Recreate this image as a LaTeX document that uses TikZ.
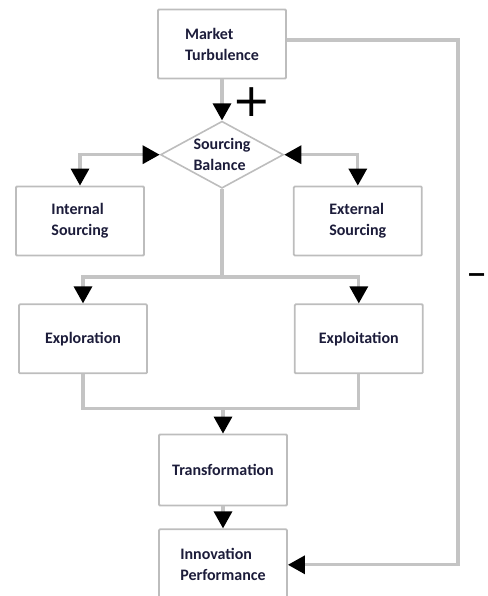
\documentclass[tikz,border=0pt]{standalone}
\usepackage{fontspec}
\setmainfont{Carlito}
\newfontfamily\signfont{DejaVu Sans}
\usetikzlibrary{positioning,shapes.geometric,arrows.meta}
\definecolor{boxgray}{HTML}{BDBDBD}
\definecolor{linegray}{HTML}{C4C4C4}
\definecolor{textnavy}{HTML}{1C1C3A}

\begin{document}
\begin{tikzpicture}[x=1pt,y=-1pt,
                >={Triangle[length=17pt,width=18pt,color=black]},
                box/.style = {draw=boxgray, line width=1.8pt, rounded corners=1pt, minimum width=128pt,
                              minimum height=69pt, inner sep=0pt, align=left, text=textnavy,
                              font=\fontsize{16}{21}\selectfont\bfseries},
                balance/.style = {diamond, aspect=1.84, draw=boxgray, line width=1.6pt, minimum width=123pt,
                              minimum height=67pt, inner sep=-1pt, align=left, text=textnavy,
                              font=\fontsize{16}{21}\selectfont\bfseries},
                conn/.style = {draw=linegray, line width=3.2pt},
                sign/.style = {inner sep=0pt, font=\signfont\fontsize{46}{46}\selectfont}]
                \useasboundingbox (0,0) rectangle (487,596);
                % main column
                \node[box] (mt) at (222,44) {Market\\Turbulence};
                \node[balance] (bal) [below=41pt of mt] {Sourcing\\Balance};
                \node[box] (int) at (80,221) {Internal\\Sourcing};
                \node[box] (ext) [right=148pt of int] {External\\Sourcing};
                \node[box] (explor) [below=47pt of int, xshift=3pt] {Exploration};
                \node[box] (exploit) [right=146pt of explor] {Exploitation};
                \node[box, minimum height=71pt] (trans) at (223,470) {Transformation};
                \node[box, minimum height=71pt] (innov) [below=22pt of trans] {Innovation\\Performance};
                % signs
                \node[sign] (plus) at (252,102) {+};
                \node[sign, anchor=east, font=\signfont\bfseries\fontsize{24}{24}\selectfont] (minus) at (487,278) {−};
                % connectors
                \coordinate[below=88pt of bal.south] (split);
                \coordinate[above=25pt of trans.north] (join);
                \draw[conn,->] (mt.south) -- (bal.north);
                \draw[conn,<->] (bal.west) -| (int.north);
                \draw[conn,<->] (bal.east) -| (ext.north);
                \draw[conn] (bal.south) -- (split);
                \draw[conn,->] (split) -| (explor.north);
                \draw[conn,->] (split) -| (exploit.north);
                \draw[conn] (explor.south) |- (join) -| (exploit.south);
                \draw[conn,->] (join) -- (trans.north);
                \draw[conn,->] (trans.south) -- (innov.north);
                \draw[conn,->] ([yshift=4pt]mt.east) -- ++(171,0) |- (innov.east);
\end{tikzpicture}
\end{document}
